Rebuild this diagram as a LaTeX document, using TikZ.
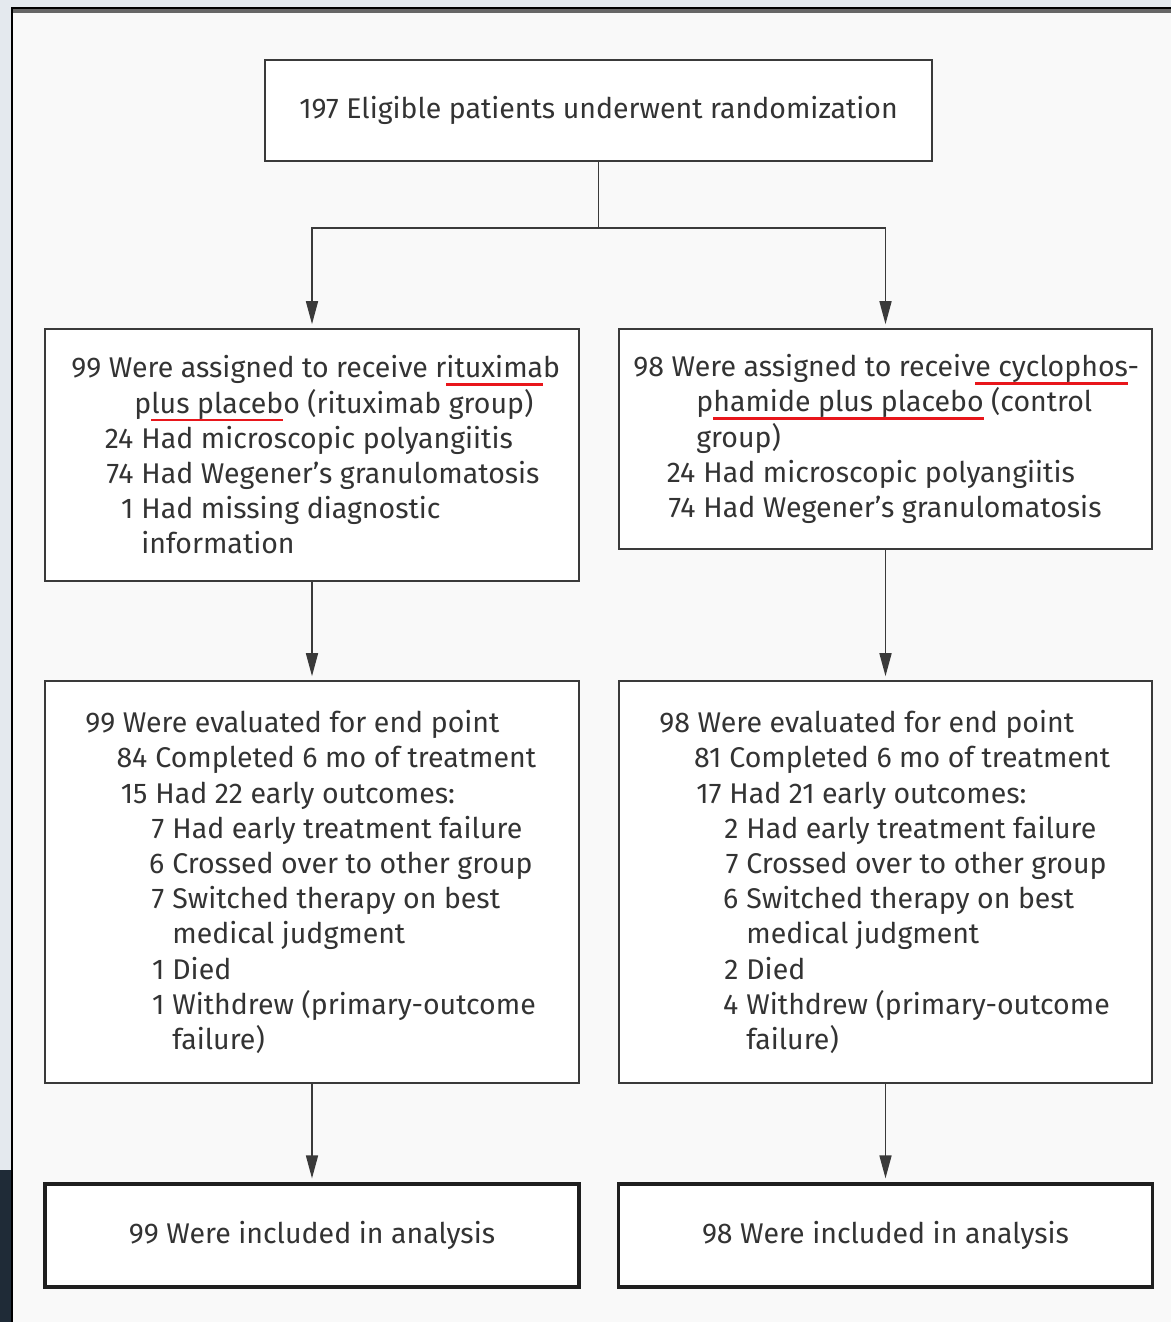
\documentclass[tikz,border=0pt]{standalone}
\usepackage{fontspec}
\usepackage{xcolor}
\usepackage{tikz}
\usetikzlibrary{arrows.meta,positioning,calc}
\setmainfont{Fira Sans}
\definecolor{ink}{HTML}{333333}
\definecolor{rulec}{HTML}{3A3A3A}
\definecolor{pagebg}{HTML}{F9F9F9}
\definecolor{deskbg}{HTML}{E4E9EE}
\definecolor{deskdark}{HTML}{1F2B37}
\definecolor{spellred}{HTML}{E8161B}
\newcommand{\flowfont}{\fontsize{28.5}{35.2}\selectfont}
% hanging levels: number right-aligned, then the text
\newcommand{\ia}[2]{\hspace*{62pt}\llap{#1}\hspace{8pt}#2}
\newcommand{\ib}[2]{\hspace*{79pt}\llap{#1}\hspace{8pt}#2}
\newcommand{\ic}{\hspace*{63pt}}
\newsavebox{\spellbox}
\newcommand{\spellmark}[1]{\sbox{\spellbox}{#1}%
  \rlap{\textcolor{spellred}{\rule[-8pt]{\wd\spellbox}{2.6pt}}}#1}
\tikzset{
  box/.style={draw=rulec,line width=1.6pt,fill=white,inner sep=0pt,
    font=\flowfont,text=ink},
  endbox/.style={box,draw=black!88,line width=3.2pt},
  txt/.style={align=left,inner sep=0pt,font=\flowfont,text=ink,anchor=west},
  link/.style={line width=1.6pt,draw=rulec},
  flow/.style={link,-{Triangle[length=23pt,width=12pt]},shorten >=4pt},
}

\begin{document}
\begin{tikzpicture}[x=1pt,y=-1pt]
  \useasboundingbox (0,0) rectangle (1171,1322);
  % ---- window round the page ----
  \fill[deskbg] (0,0) rectangle (1171,1322);
  \fill[deskdark] (0,1170) rectangle (11,1322);
  \fill[pagebg] (11,8) rectangle (1171,1322);
  \fill[black!60] (13,9) rectangle (1171,13);
  \draw[black,line width=2.5pt] (12,1322) -- (12,8) -- (1171,8);

  % ---- randomization ----
  \node[box,minimum width=667,minimum height=101] (rand) at (598.5,110.5)
    {197 Eligible patients underwent randomization};
  \coordinate (split) at (598.5,228);

  % ---- assignment ----
  \node[box,minimum width=534,minimum height=252] (armR) at (312,455) {};
  \node[txt] (armRtxt) at ([xshift=27]armR.west)
    {99 Were assigned to receive r\spellmark{ituxima}b\\
     \ic p\spellmark{lus placeb}o (rituximab group)\\
     \ia{24}{Had microscopic polyangiitis}\\
     \ia{74}{Had Wegener’s granulomatosis}\\
     \ia{1}{Had missing diagnostic}\\
     \ia{}{information}};
  \node[box,minimum width=533,minimum height=220] (armC) at (885.5,439) {};
  \node[txt] (armCtxt) at ([xshift=15]armC.west)
    {98 Were assigned to receiv\spellmark{e cyclophos}-\\
     \ic p\spellmark{hamide plus placebo} (control\\
     \ic group)\\
     \ia{24}{Had microscopic polyangiitis}\\
     \ia{74}{Had Wegener’s granulomatosis}};

  % ---- evaluation ----
  \node[box,minimum width=534,minimum height=402] (evalR) at (312,882) {};
  \node[txt] (evalRtxt) at ([xshift=41]evalR.west)
    {99 Were evaluated for end point\\
     \ia{84}{Completed 6 mo of treatment}\\
     \ia{15}{Had 22 early outcomes:}\\
     \ib{7}{Had early treatment failure}\\
     \ib{6}{Crossed over to other group}\\
     \ib{7}{Switched therapy on best}\\
     \ib{}{medical judgment}\\
     \ib{1}{Died}\\
     \ib{1}{Withdrew (primary-outcome}\\
     \ib{}{failure)}};
  \node[box,minimum width=533,minimum height=402] (evalC) at (885.5,882) {};
  \node[txt] (evalCtxt) at ([xshift=41]evalC.west)
    {98 Were evaluated for end point\\
     \ia{81}{Completed 6 mo of treatment}\\
     \ia{17}{Had 21 early outcomes:}\\
     \ib{2}{Had early treatment failure}\\
     \ib{7}{Crossed over to other group}\\
     \ib{6}{Switched therapy on best}\\
     \ib{}{medical judgment}\\
     \ib{2}{Died}\\
     \ib{4}{Withdrew (primary-outcome}\\
     \ib{}{failure)}};

  % ---- analysis ----
  \node[endbox,minimum width=534,minimum height=103] (anaR) at (312,1235.5)
    {99 Were included in analysis};
  \node[endbox,minimum width=534,minimum height=103] (anaC) at (885.5,1235.5)
    {98 Were included in analysis};

  % ---- connectors ----
  \draw[link] (rand.south) -- (split);
  \draw[flow] (split) -| (armR.north);
  \draw[flow] (split) -| (armC.north);
  \draw[flow] (armR.south) -- (evalR.north);
  \draw[flow] (armC.south) -- (armC.south |- evalC.north);
  \draw[flow] (evalR.south) -- (anaR.north);
  \draw[flow] (evalC.south) -- (anaC.north);
\end{tikzpicture}
\end{document}
